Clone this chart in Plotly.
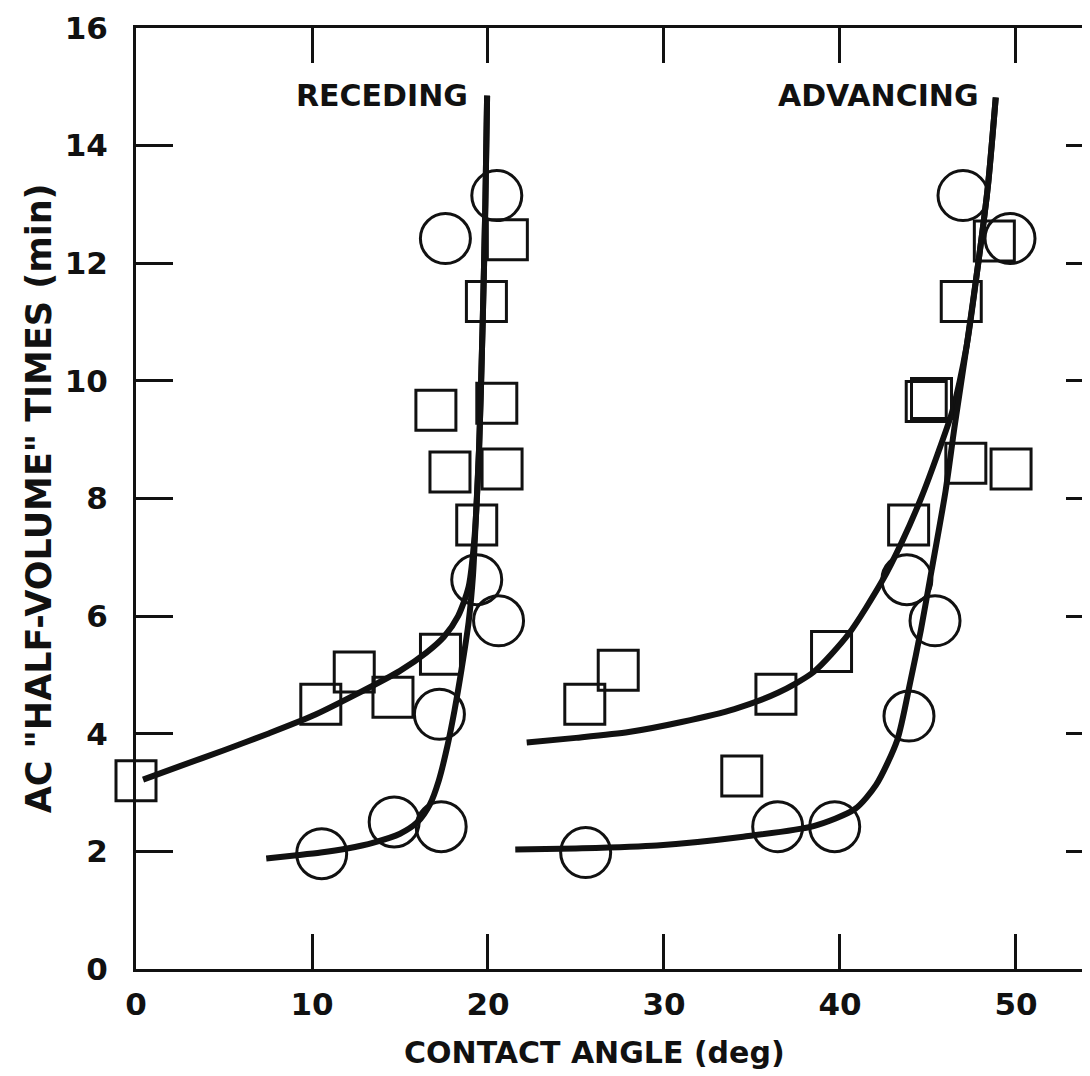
import plotly.graph_objects as go

# ---------------- data ----------------
# Receding contact angle
rec_sq_x = [0.0, 10.5, 12.4, 14.6, 17.3, 19.36, 17.84, 20.8, 17.04, 20.5, 19.91, 21.1]
rec_sq_y = [3.2, 4.5, 5.05, 4.62, 5.35, 7.55, 8.45, 8.5, 9.5, 9.62, 11.35, 12.4]
rec_ci_x = [10.55, 14.67, 17.34, 17.24, 20.6, 19.36, 17.58, 20.5]
rec_ci_y = [1.96, 2.5, 2.42, 4.33, 5.92, 6.62, 12.42, 13.15]

rec_sq_curve_x = [0.4, 2.5, 5.0, 7.5, 10.0, 12.5, 15.0, 16.5, 17.5, 18.3, 18.9, 19.25, 19.5, 19.7, 19.85, 19.95]
rec_sq_curve_y = [3.22, 3.45, 3.72, 4.0, 4.3, 4.67, 5.07, 5.38, 5.65, 6.0, 6.5, 7.4, 8.9, 11.0, 13.0, 14.85]
rec_ci_curve_x = [7.4, 9.0, 10.5, 12.0, 13.5, 15.0, 16.0, 16.7, 17.2, 17.7, 18.1, 18.5, 18.9, 19.15, 19.3, 19.5, 19.7, 19.85, 19.95]
rec_ci_curve_y = [1.88, 1.93, 1.98, 2.05, 2.15, 2.3, 2.5, 2.8, 3.2, 3.8, 4.4, 5.1, 5.9, 6.7, 7.6, 8.9, 11.0, 13.0, 14.85]

# Advancing contact angle
adv_sq_x = [25.5, 27.4, 34.42, 36.36, 39.52, 43.9, 44.9, 45.2, 47.15, 49.72, 46.89, 48.77]
adv_sq_y = [4.5, 5.08, 3.28, 4.67, 5.4, 7.55, 9.65, 9.7, 8.6, 8.5, 11.35, 12.38]
adv_ci_x = [25.55, 36.46, 39.7, 43.92, 45.4, 43.8, 46.99, 49.66]
adv_ci_y = [1.98, 2.42, 2.42, 4.3, 5.92, 6.62, 13.15, 12.42]

adv_sq_curve_x = [22.2, 25.0, 28.0, 31.0, 34.0, 36.5, 38.5, 40.5, 42.4, 43.5, 44.6, 45.6, 46.4, 47.2, 47.9, 48.4, 48.85]
adv_sq_curve_y = [3.85, 3.93, 4.03, 4.2, 4.42, 4.7, 5.05, 5.7, 6.6, 7.25, 8.0, 8.8, 9.5, 10.6, 12.1, 13.3, 14.82]
adv_ci_curve_x = [21.55, 25.0, 29.6, 34.5, 38.5, 40.85, 42.05, 43.25, 44.0, 44.6, 45.2, 46.0, 46.5, 47.2, 47.9, 48.4, 48.85]
adv_ci_curve_y = [2.03, 2.05, 2.1, 2.25, 2.43, 2.72, 3.13, 3.89, 4.89, 5.77, 6.77, 8.13, 9.2, 10.6, 12.1, 13.3, 14.82]

x_ticks = [0, 10, 20, 30, 40, 50]
y_ticks = [0, 2, 4, 6, 8, 10, 12, 14, 16]
y_right_ticks = [2, 4, 6, 8, 10, 12, 14]

x_title = "CONTACT ANGLE (deg)"
y_title = 'AC "HALF-VOLUME" TIMES (min)'
label_rec = "RECEDING"
label_adv = "ADVANCING"

# ---------------- figure ----------------
FONT = "DejaVu Sans, Liberation Sans, sans-serif"
BLACK = "#111111"

fig = go.Figure()

def curve(x, y, yaxis="y"):
    return go.Scatter(x=x, y=y, mode="lines", yaxis=yaxis, hoverinfo="skip",
                      line=dict(color=BLACK, width=6, shape="spline", smoothing=0.7),
                      showlegend=False, cliponaxis=False)

def pts(x, y, symbol, size, yaxis="y"):
    return go.Scatter(x=x, y=y, mode="markers", yaxis=yaxis, showlegend=False,
                      cliponaxis=False,
                      marker=dict(symbol=symbol, size=size, color=BLACK,
                                  line=dict(color=BLACK, width=3)))

fig.add_trace(curve(rec_sq_curve_x, rec_sq_curve_y))
fig.add_trace(curve(rec_ci_curve_x, rec_ci_curve_y))
fig.add_trace(pts(rec_sq_x, rec_sq_y, "square-open", 40))
fig.add_trace(pts(rec_ci_x, rec_ci_y, "circle-open", 50))

fig.add_trace(curve(adv_sq_curve_x, adv_sq_curve_y, "y2"))
fig.add_trace(curve(adv_ci_curve_x, adv_ci_curve_y, "y2"))
fig.add_trace(pts(adv_sq_x, adv_sq_y, "square-open", 40, "y2"))
fig.add_trace(pts(adv_ci_x, adv_ci_y, "circle-open", 50, "y2"))

TICKFONT = dict(size=31, family=FONT, color=BLACK, weight="bold")

fig.update_layout(
    width=1090, height=1076,
    margin=dict(l=128, r=0, t=20, b=115),
    paper_bgcolor="white", plot_bgcolor="white",
    font=dict(family=FONT, color=BLACK, size=31),
    showlegend=False,
    xaxis=dict(range=[0, 54.66], showline=True, linewidth=3, linecolor=BLACK,
               mirror="ticks", ticks="inside", ticklen=35, tickwidth=3, tickcolor=BLACK,
               tickvals=x_ticks, ticktext=[str(v) for v in x_ticks],
               showgrid=False, zeroline=False, ticklabelstandoff=6,
               tickfont=TICKFONT),
    yaxis=dict(range=[0, 16], showline=True, linewidth=3, linecolor=BLACK,
               mirror=False, ticks="inside", ticklen=37, tickwidth=3, tickcolor=BLACK,
               tickvals=y_ticks, ticktext=[str(v) for v in y_ticks],
               showgrid=False, zeroline=False, ticklabelstandoff=19,
               tickfont=TICKFONT),
    yaxis2=dict(range=[0, 16], overlaying="y", side="right", anchor="x",
                showline=False, ticks="inside", ticklen=32, tickwidth=3, tickcolor=BLACK,
                tickvals=y_right_ticks, showticklabels=False,
                showgrid=False, zeroline=False),
)

fig.add_annotation(text=label_rec, x=13.98, y=14.86, xref="x", yref="y",
                   xanchor="center", yanchor="middle", showarrow=False,
                   font=dict(size=30, family=FONT, color=BLACK, weight="bold"))
fig.add_annotation(text=label_adv, x=42.2, y=14.86, xref="x", yref="y",
                   xanchor="center", yanchor="middle", showarrow=False,
                   font=dict(size=30, family=FONT, color=BLACK, weight="bold"))
fig.add_annotation(text=x_title, x=0.4766, y=-0.089, xref="paper", yref="paper",
                   xanchor="center", yanchor="middle", showarrow=False,
                   font=dict(size=30, family=FONT, color=BLACK, weight="bold"))
fig.add_annotation(text=y_title, x=-0.101, y=0.50, xref="paper", yref="paper",
                   xanchor="center", yanchor="middle", textangle=-90, showarrow=False,
                   font=dict(size=35, family=FONT, color=BLACK, weight="bold"))

fig.write_html("out.html")
